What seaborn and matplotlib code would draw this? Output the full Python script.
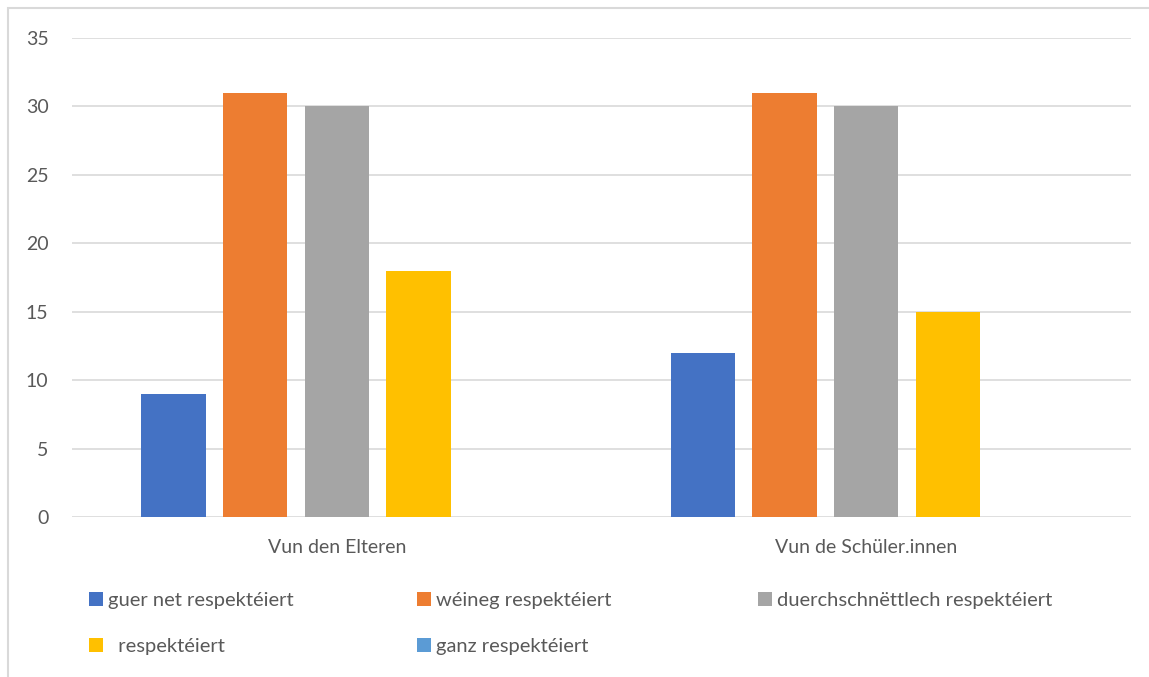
import matplotlib
matplotlib.use("Agg")
import matplotlib.pyplot as plt
from matplotlib.patches import Rectangle
import seaborn as sns
import pandas as pd

# data
categories = ["Vun den Elteren", "Vun de Schüler.innen"]
series = ["guer net respektéiert", "wéineg respektéiert", "duerchschnëttlech respektéiert",
          "  respektéiert", "ganz respektéiert"]
values_elteren = [9, 31, 30, 18, 0]
values_schueler = [12, 31, 30, 15, 0]
colors = ["#4472C4", "#ED7D31", "#A5A5A5", "#FFC000", "#5B9BD5"]
yticks = [0, 5, 10, 15, 20, 25, 30, 35]

rows = []
for s, a, b in zip(series, values_elteren, values_schueler):
    rows.append({"cat": categories[0], "serie": s, "val": a})
    rows.append({"cat": categories[1], "serie": s, "val": b})
df = pd.DataFrame(rows)

sns.set_style("white")
plt.rcParams["font.family"] = ["Lato", "DejaVu Sans"]
text_col = "#595959"

fig = plt.figure(figsize=(11.49, 6.77), dpi=100)
ax = fig.add_axes([72 / 1149, 1 - 517 / 677, (1131 - 72) / 1149, (517 - 38) / 677])

sns.barplot(data=df, x="cat", y="val", hue="serie", order=categories, hue_order=series,
            palette=colors, width=0.77, gap=0.21, saturation=1, linewidth=0,
            ax=ax, legend=True)

ax.set_ylim(0, 35)
ax.set_yticks(yticks)
ax.set_xlim(-0.5, 1.5)
ax.set_xlabel("")
ax.set_ylabel("")
ax.yaxis.grid(True, color="#D9D9D9", linewidth=1.2)
ax.set_axisbelow(True)
for sp in ax.spines.values():
    sp.set_visible(False)
ax.tick_params(axis="y", length=0, pad=17, labelsize=14, labelcolor=text_col)
ax.tick_params(axis="x", length=0, pad=16, labelsize=14, labelcolor=text_col)

handles, labels = ax.get_legend_handles_labels()
ax.get_legend().remove()

# three legend columns, placed like the reference
col_x = [89, 417, 758]
col_items = [[0, 3], [1, 4], [2]]
for x, idx in zip(col_x, col_items):
    leg = fig.legend([handles[i] for i in idx], [labels[i] for i in idx],
                     loc="upper left", bbox_to_anchor=(x / 1149, 1 - 592 / 677),
                     frameon=False, fontsize=14.5, handlelength=0.7, handleheight=0.7,
                     handletextpad=0.25, labelspacing=1.45, borderaxespad=0, borderpad=0)
    for t in leg.get_texts():
        t.set_color(text_col)

# chart frame (cropped on right and bottom)
fig.patches.append(Rectangle((8 / 1149, -0.2), 1.3, 1.2 - 8 / 677, transform=fig.transFigure,
                             fill=False, edgecolor="#D9D9D9", linewidth=1.5))

fig.savefig("out.png", dpi=100)
